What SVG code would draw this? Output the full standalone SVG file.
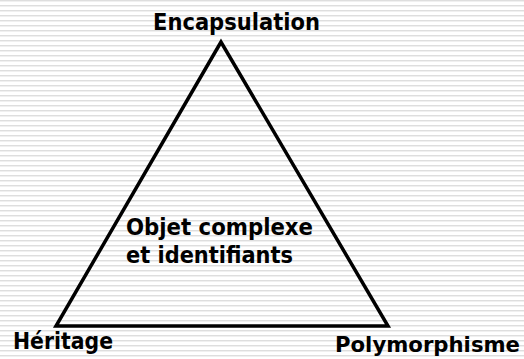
<svg xmlns="http://www.w3.org/2000/svg" width="524" height="359" viewBox="0 0 524 359">
  <defs>
    <!-- ruled background: thin grey rule every 5px -->
    <pattern id="rules" x="0" y="0" width="8" height="5" patternUnits="userSpaceOnUse">
      <rect x="0" y="0" width="8" height="5" fill="#ffffff"/>
      <rect x="0" y="0" width="8" height="1" fill="#dedede"/>
      <rect x="0" y="1" width="8" height="1" fill="#f0f0f0"/>
    </pattern>
    <style>
      .lbl { font-family: "DejaVu Sans", Verdana, sans-serif; font-weight: bold; font-size: 23px; fill: #000; }
      .edge { fill: none; stroke: #000; stroke-width: 3.5; stroke-linejoin: miter; }
    </style>
  </defs>
  <rect width="524" height="359" fill="url(#rules)"/>

  <g id="connectors">
    <polygon class="edge" points="221,42 56,326 388,326"/>
  </g>

  <g id="encapsulation">
    <text class="lbl" x="153" y="30" textLength="167" lengthAdjust="spacingAndGlyphs">Encapsulation</text>
  </g>
  <g id="heritage">
    <text class="lbl" x="13" y="349" textLength="100" lengthAdjust="spacingAndGlyphs">Héritage</text>
  </g>
  <g id="polymorphisme">
    <text class="lbl" x="520" y="352" text-anchor="end" style="font-size:22px" textLength="185" lengthAdjust="spacingAndGlyphs">Polymorphisme</text>
  </g>
  <g id="objet">
    <text class="lbl" x="126" y="235" textLength="187" lengthAdjust="spacingAndGlyphs">Objet complexe</text>
    <text class="lbl" x="126" y="263" textLength="167" lengthAdjust="spacingAndGlyphs">et identifiants</text>
  </g>
</svg>
